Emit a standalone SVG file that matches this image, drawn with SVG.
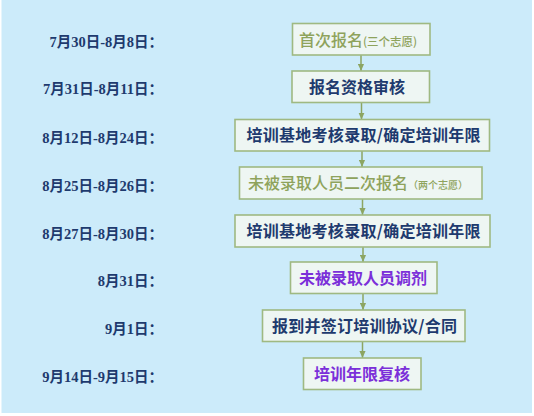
<svg xmlns="http://www.w3.org/2000/svg" width="534" height="416" viewBox="0 0 534 416">
  <defs>
    <marker id="ah" viewBox="0 0 8 8" refX="8" refY="4" markerWidth="7" markerHeight="7" markerUnits="userSpaceOnUse" orient="auto">
      <path d="M0,0.5 L8,4 L0,7.5 Z" fill="#8CA562"/>
    </marker>
  </defs>
  <style>
    .box { fill: #EEF6F3; stroke: #9FB982; stroke-width: 1.6; }
    .lbl { font-family: "Liberation Serif", "Noto Sans CJK SC", serif; font-weight: bold; font-size: 14.5px; fill: #1E3A6E; text-anchor: end; }
    .t { font-family: "Noto Sans CJK SC", sans-serif; font-size: 16px; }
    .navy { fill: #1E3A6E; font-weight: bold; }
    .green { fill: #8EA35C; font-weight: 500; }
    .purple { fill: #7B2FD9; font-weight: bold; }
    .conn { stroke: #8CA562; stroke-width: 1.5; fill: none; marker-end: url(#ah); }
  </style>
  <rect x="1.5" y="0" width="530.5" height="413" fill="#CCEBFA"/>

  <g id="labels">
    <text class="lbl" x="163" y="46.5">7月30日-8月8日：</text>
    <text class="lbl" x="163" y="94">7月31日-8月11日：</text>
    <text class="lbl" x="163" y="142.5">8月12日-8月24日：</text>
    <text class="lbl" x="163" y="190.5">8月25日-8月26日：</text>
    <text class="lbl" x="163" y="238.5">8月27日-8月30日：</text>
    <text class="lbl" x="163" y="285.5">8月31日：</text>
    <text class="lbl" x="163" y="333.5">9月1日：</text>
    <text class="lbl" x="163" y="381.5">9月14日-9月15日：</text>
  </g>

  <g id="connectors">
    <line class="conn" x1="361" y1="55" x2="361" y2="71"/>
    <line class="conn" x1="361.5" y1="102.5" x2="361.5" y2="119.5"/>
    <line class="conn" x1="362" y1="151" x2="362" y2="167"/>
    <line class="conn" x1="362.5" y1="199" x2="362.5" y2="215"/>
    <line class="conn" x1="363" y1="247" x2="363" y2="262"/>
    <line class="conn" x1="363" y1="293.5" x2="363" y2="310"/>
    <line class="conn" x1="362.5" y1="341.5" x2="362.5" y2="358"/>
  </g>

  <g id="n1">
    <rect class="box" x="292.5" y="23.5" width="137.5" height="31.5"/>
    <text class="t green" x="299" y="45.5">首次报名<tspan font-size="11.5">(三个志愿)</tspan></text>
  </g>
  <g id="n2">
    <rect class="box" x="292" y="71" width="137.5" height="31.5"/>
    <text class="t navy" x="309" y="92.5" textLength="96">报名资格审核</text>
  </g>
  <g id="n3">
    <rect class="box" x="235" y="119.5" width="254.5" height="31.5"/>
    <text class="t navy" x="246.5" y="141" font-size="17" textLength="234">培训基地考核录取/确定培训年限</text>
  </g>
  <g id="n4">
    <rect class="box" x="239.5" y="167" width="242.5" height="32"/>
    <text class="t green" x="248" y="189">未被录取人员二次报名<tspan font-size="10">（两个志愿）</tspan></text>
  </g>
  <g id="n5">
    <rect class="box" x="235" y="215" width="255" height="32"/>
    <text class="t navy" x="246.5" y="237" font-size="17" textLength="234">培训基地考核录取/确定培训年限</text>
  </g>
  <g id="n6">
    <rect class="box" x="290.5" y="262" width="146.5" height="31.5"/>
    <text class="t purple" x="299" y="283.5">未被录取人员调剂</text>
  </g>
  <g id="n7">
    <rect class="box" x="262.5" y="310" width="202.5" height="31.5"/>
    <text class="t navy" x="272" y="331.5" textLength="185">报到并签订培训协议/合同</text>
  </g>
  <g id="n8">
    <rect class="box" x="303.5" y="358" width="117.5" height="31.5"/>
    <text class="t purple" x="314" y="379.5" textLength="96">培训年限复核</text>
  </g>
</svg>
